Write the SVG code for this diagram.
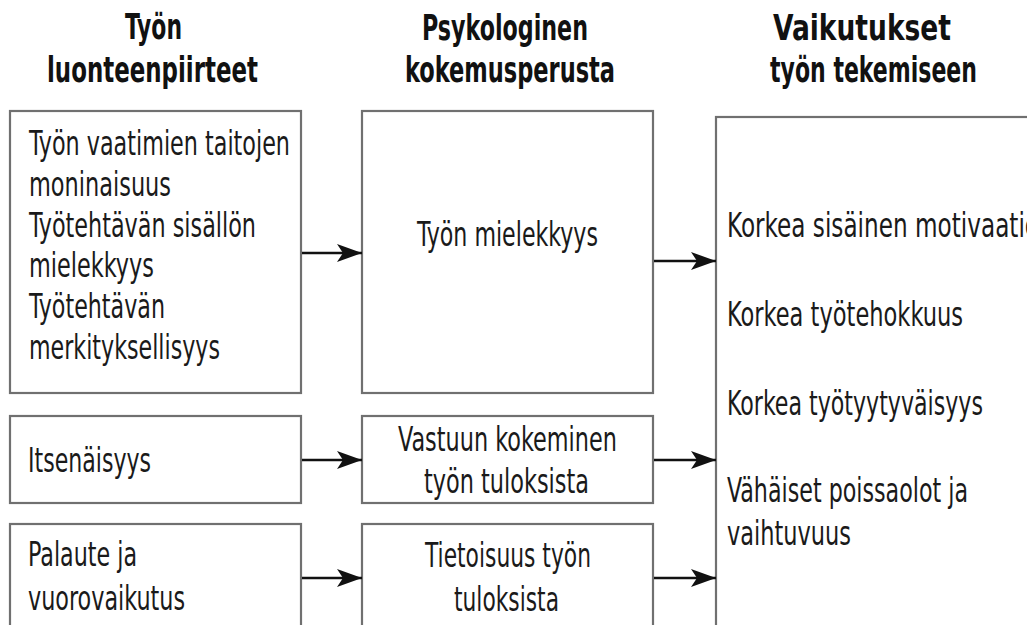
<svg xmlns="http://www.w3.org/2000/svg" width="1027" height="625" viewBox="0 0 1027 625">
<style>
.box{fill:#fff;stroke:#707070;stroke-width:2.2}
.t{font-family:"Liberation Sans Narrow","DejaVu Sans Condensed","Roboto Condensed",sans-serif;font-size:34px;fill:#1a1a1a}
.h{font-family:"Liberation Sans Narrow","DejaVu Sans Condensed","Roboto Condensed",sans-serif;font-size:35px;font-weight:bold;fill:#111}
.c{text-anchor:middle}
.conn{stroke:#111;stroke-width:2.4;fill:none;marker-end:url(#ah)}
</style>
<defs>
<marker id="ah" markerUnits="userSpaceOnUse" markerWidth="26" markerHeight="18" refX="25" refY="9" orient="auto">
<path d="M0,0 L25,9 L0,18 L6,9 Z" fill="#111"/>
</marker>
</defs>
<rect width="1027" height="625" fill="#fff"/>
<g id="headings">
<text class="h c" x="153.5" y="39" textLength="57" lengthAdjust="spacingAndGlyphs">Työn</text>
<text class="h c" x="152.5" y="82" textLength="211" lengthAdjust="spacingAndGlyphs">luonteenpiirteet</text>
<text class="h c" x="505" y="40" textLength="166" lengthAdjust="spacingAndGlyphs">Psykologinen</text>
<text class="h c" x="510" y="82" textLength="210" lengthAdjust="spacingAndGlyphs">kokemusperusta</text>
<text class="h c" x="862" y="40" textLength="178" lengthAdjust="spacingAndGlyphs">Vaikutukset</text>
<text class="h c" x="873.5" y="82" textLength="207" lengthAdjust="spacingAndGlyphs">työn tekemiseen</text>
</g>
<g id="n-piirteet">
<rect class="box" x="10" y="111" width="291" height="282"/>
<text class="t" x="29" y="155" textLength="261" lengthAdjust="spacingAndGlyphs">Työn vaatimien taitojen</text>
<text class="t" x="29" y="196" textLength="142" lengthAdjust="spacingAndGlyphs">moninaisuus</text>
<text class="t" x="29" y="237" textLength="227" lengthAdjust="spacingAndGlyphs">Työtehtävän sisällön</text>
<text class="t" x="29" y="277" textLength="125" lengthAdjust="spacingAndGlyphs">mielekkyys</text>
<text class="t" x="29" y="318" textLength="136" lengthAdjust="spacingAndGlyphs">Työtehtävän</text>
<text class="t" x="29" y="359" textLength="191" lengthAdjust="spacingAndGlyphs">merkityksellisyys</text>
</g>
<g id="n-itsenaisyys">
<rect class="box" x="10" y="416" width="291" height="87"/>
<text class="t" x="28" y="472" textLength="123" lengthAdjust="spacingAndGlyphs">Itsenäisyys</text>
</g>
<g id="n-palaute">
<rect class="box" x="10" y="524" width="291" height="200"/>
<text class="t" x="28" y="566" textLength="109" lengthAdjust="spacingAndGlyphs">Palaute ja</text>
<text class="t" x="28" y="610" textLength="157" lengthAdjust="spacingAndGlyphs">vuorovaikutus</text>
</g>
<g id="n-mielekkyys">
<rect class="box" x="362" y="111" width="291" height="282"/>
<text class="t c" x="507.5" y="246" textLength="181" lengthAdjust="spacingAndGlyphs">Työn mielekkyys</text>
</g>
<g id="n-vastuu">
<rect class="box" x="362" y="416" width="291" height="87"/>
<text class="t c" x="507.5" y="451" textLength="219" lengthAdjust="spacingAndGlyphs">Vastuun kokeminen</text>
<text class="t c" x="506.5" y="493" textLength="165" lengthAdjust="spacingAndGlyphs">työn tuloksista</text>
</g>
<g id="n-tietoisuus">
<rect class="box" x="362" y="524" width="291" height="200"/>
<text class="t c" x="508" y="567" textLength="166" lengthAdjust="spacingAndGlyphs">Tietoisuus työn</text>
<text class="t c" x="506.5" y="611" textLength="105" lengthAdjust="spacingAndGlyphs">tuloksista</text>
</g>
<g id="n-vaikutukset">
<rect class="box" x="716" y="117" width="400" height="600"/>
<text class="t" x="727" y="237" textLength="312" lengthAdjust="spacingAndGlyphs">Korkea sisäinen motivaatio</text>
<text class="t" x="727" y="326" textLength="236" lengthAdjust="spacingAndGlyphs">Korkea työtehokkuus</text>
<text class="t" x="727" y="415" textLength="256" lengthAdjust="spacingAndGlyphs">Korkea työtyytyväisyys</text>
<text class="t" x="727" y="502" textLength="241" lengthAdjust="spacingAndGlyphs">Vähäiset poissaolot ja</text>
<text class="t" x="727" y="545" textLength="124" lengthAdjust="spacingAndGlyphs">vaihtuvuus</text>
</g>
<g id="connectors">
<line class="conn" x1="302" y1="253" x2="362" y2="253"/>
<line class="conn" x1="654" y1="261" x2="716" y2="261"/>
<line class="conn" x1="302" y1="460" x2="362" y2="460"/>
<line class="conn" x1="654" y1="460" x2="716" y2="460"/>
<line class="conn" x1="302" y1="578" x2="362" y2="578"/>
<line class="conn" x1="654" y1="578" x2="716" y2="578"/>
</g>
</svg>
